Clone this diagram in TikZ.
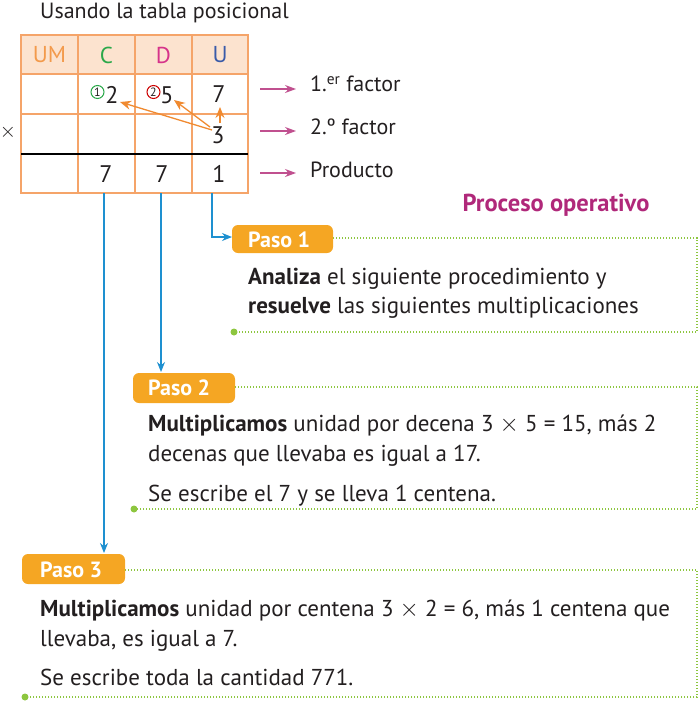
\documentclass[tikz,border=0pt]{standalone}
\usepackage{fontspec}
\setmainfont{PT Sans}
\usetikzlibrary{arrows.meta}
\definecolor{tborder}{HTML}{F5A469}
\definecolor{thead}{HTML}{FCE3CF}
\definecolor{cUM}{HTML}{F39A4B}
\definecolor{cC}{HTML}{2BA84A}
\definecolor{cD}{HTML}{D6338A}
\definecolor{cU}{HTML}{3A5BA9}
\definecolor{magarrow}{HTML}{C0508F}
\definecolor{magtext}{HTML}{B0287A}
\definecolor{oarrow}{HTML}{F08A30}
\definecolor{bline}{HTML}{1E90D0}
\definecolor{tab}{HTML}{F5A623}
\definecolor{gdot}{HTML}{8DC63F}
\definecolor{txt}{HTML}{231F20}
\tikzset{
  cell/.style={font=\fontsize{24}{24}\selectfont, text=txt, inner sep=0pt},
  head/.style={font=\fontsize{23}{23}\selectfont, inner sep=0pt},
  lbl/.style={font=\fontsize{22}{22}\selectfont, text=txt, anchor=west, inner sep=0pt},
  body/.style={font=\fontsize{23}{23}\selectfont, text=txt, anchor=base west, inner sep=0pt},
  magarr/.style={draw=magarrow, line width=1.1pt, -{Stealth[length=11pt,width=8pt]}},
  oarr/.style={draw=oarrow, line width=1.3pt, -{Stealth[length=11pt,width=9pt]}},
  barr/.style={draw=bline, line width=1.4pt, -{Stealth[length=10pt,width=8pt]}},
  tabbox/.style={fill=tab, rounded corners=6pt},
  tabtext/.style={font=\fontsize{22}{22}\selectfont\bfseries, text=white, inner sep=0pt},
  gdots/.style={draw=gdot, line width=1.3pt, dash pattern=on 1.3pt off 1.7pt},
  gend/.style={circle, fill=gdot, minimum size=7pt, inner sep=0pt},
}
\begin{document}
\begin{tikzpicture}[x=1pt,y=-1pt]
\useasboundingbox (0,0) rectangle (699,702);
% title
\node[font=\fontsize{22}{22}\selectfont, text=txt, anchor=west, inner sep=0pt] (title) at (40,13) {Usando la tabla posicional};
% table
\fill[thead] (21,35) rectangle (248,74);
\draw[tborder, line width=1.3pt] (21,35) rectangle (248,193);
\foreach \x in {78,135,192} \draw[tborder, line width=1.3pt] (\x,35) -- (\x,193);
\foreach \y in {74,114} \draw[tborder, line width=1.3pt] (21,\y) -- (248,\y);
\draw[black, line width=2.2pt] (21,154) -- (248,154);
\node[head, text=cUM] (hUM) at (49.5,55) {UM};
\node[head, text=cC] (hC) at (106.5,55) {C};
\node[head, text=cD] (hD) at (163.5,55) {D};
\node[head, text=cU] (hU) at (220,55) {U};
% row 1
\node[cell] (r1c) at (112,95) {2};
\node[cell] (r1d) at (167,95) {5};
\node[cell] (r1u) at (219,94) {7};
\node[circle, draw=cC, line width=1pt, minimum size=13pt, inner sep=0pt, font=\fontsize{12}{12}\selectfont, text=txt] (k1) at (97.5,92) {1};
\node[circle, draw=red!80!black, line width=1pt, minimum size=13pt, inner sep=0pt, font=\fontsize{12}{12}\selectfont, text=txt] (k2) at (153.5,92) {2};
% row 2
\node[cell] (r2u) at (218,135) {3};
\node[font=\fontsize{20}{20}\selectfont, text=txt, inner sep=0pt] (times) at (8,132) {$\times$};
% row 3
\node[cell] (r3c) at (106,174) {7};
\node[cell] (r3d) at (162,174) {7};
\node[cell] (r3u) at (219,174) {1};
% orange arrows
\coordinate (t1) at (212,130);
\coordinate (t2) at (210,127);
\coordinate (t3) at (220,123);
\coordinate (h1) at (120,102);
\coordinate (h2) at (174,100);
\coordinate (h3) at (220,107);
\draw[oarr] (t1) -- (h1);
\draw[oarr] (t2) -- (h2);
\draw[oarr] (t3) -- (h3);
% magenta arrows and labels
\node[lbl] (f1) at (310,84) {1.\textsuperscript{er} factor};
\node[lbl] (f2) at (310,127) {2.º factor};
\node[lbl] (f3) at (310,170) {Producto};
\coordinate (m1) at (260,89);
\coordinate (m2) at (260,131);
\coordinate (m3) at (260,173);
\draw[magarr] (m1) -- (296,89);
\draw[magarr] (m2) -- (296,131);
\draw[magarr] (m3) -- (296,173);
% proceso operativo
\node[font=\fontsize{24.5}{24.5}\selectfont\bfseries, text=magtext, inner sep=0pt] (proc) at (556,205) {Proceso operativo};

% Paso 1
\draw[gdots] (333,238) -- (697,238) -- (697,332) -- (234,332);
\node[gend] (e1) at (234,332) {};
\fill[tabbox] (232,225) rectangle (333,253);
\node[tabtext, anchor=west] (p1) at (248,239.5) {Paso 1};
\node[body] (p1a) at (248,284) {\textbf{Analiza} el siguiente procedimiento y};
\node[body] (p1b) at (248,313) {\textbf{resuelve} las siguientes multiplicaciones};

% Paso 2
\draw[gdots] (235,387) -- (697,387) -- (697,509) -- (134,509);
\node[gend] (e2) at (134,509) {};
\fill[tabbox] (133,373) rectangle (235,403);
\node[tabtext, anchor=west] (p2) at (148,388) {Paso 2};
\node[body] (p2a) at (148,431) {\textbf{Multiplicamos} unidad por decena 3 $\times$ 5 = 15, más 2};
\node[body] (p2b) at (148,461) {decenas que llevaba es igual a 17.};
\node[body] (p2c) at (148,501) {Se escribe el 7 y se lleva 1 centena.};

% Paso 3
\draw[gdots] (125,570) -- (697,570) -- (697,697) -- (25,697);
\node[gend] (e3) at (25,697) {};
\fill[tabbox] (22,554) rectangle (125,584);
\node[tabtext, anchor=west] (p3) at (40,569.5) {Paso 3};
\node[body] (p3a) at (40,616) {\textbf{Multiplicamos} unidad por centena 3 $\times$ 2 = 6, más 1 centena que};
\node[body] (p3b) at (40,646) {llevaba, es igual a 7.};
\node[body] (p3c) at (40,685) {Se escribe toda la cantidad 771.};

% blue connectors
\coordinate (bU) at (212,193);
\coordinate (bD) at (161,193);
\coordinate (bC) at (104,193);
\coordinate (tab1) at (232,237);
\draw[barr] (bU) |- (tab1);
\draw[barr] (bD) -- (161,372);
\draw[barr] (bC) -- (104,553);
\end{tikzpicture}
\end{document}
